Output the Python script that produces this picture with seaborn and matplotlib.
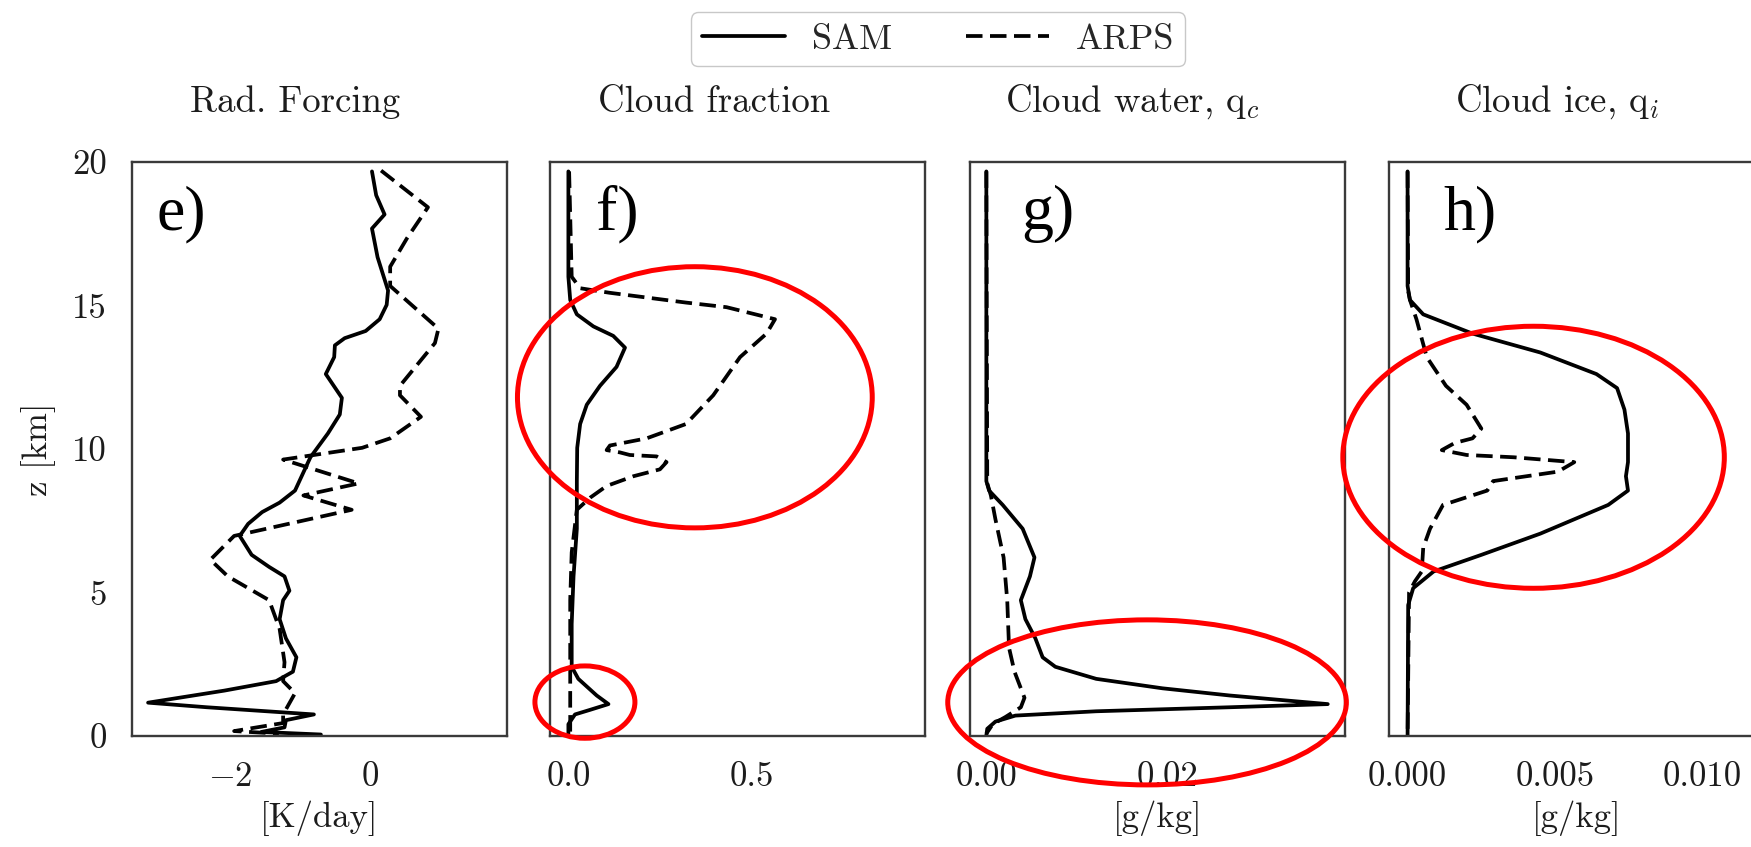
import matplotlib
matplotlib.use("Agg")
import matplotlib.pyplot as plt
from matplotlib.patches import Ellipse
import pandas as pd
import seaborn as sns

# ---------------------------------------------------------------- data
# Radiative forcing [K/day]
rad_sam_z = [19.67, 18.84, 18.17, 17.68, 16.68, 15.52, 15.02, 14.52, 14.11, 13.86,
             13.61, 13.20, 12.61, 11.78, 11.20, 10.54, 9.71, 8.55, 8.13, 7.80,
             7.39, 6.97, 6.31, 5.89, 5.56, 5.06, 4.73, 4.07, 3.40, 2.74,
             2.24, 1.91, 1.58, 1.16, 1.00, 0.75, 0.55, 0.30, 0.14, 0.05]
rad_sam = [0.03, 0.09, 0.21, 0.03, 0.11, 0.26, 0.24, 0.14, -0.06, -0.36,
           -0.50, -0.51, -0.63, -0.40, -0.43, -0.60, -0.85, -1.07, -1.29, -1.54,
           -1.74, -1.86, -1.69, -1.44, -1.22, -1.15, -1.24, -1.29, -1.20, -1.05,
           -1.10, -1.34, -2.08, -3.17, -2.33, -0.80, -1.20, -1.22, -1.55, -0.70]
rad_arps_z = [19.70, 18.42, 17.34, 16.35, 15.68, 14.19, 13.69, 12.20, 11.87, 11.12,
              10.37, 10.04, 9.63, 8.80, 8.38, 7.88, 6.97, 6.14, 5.56, 4.73,
              3.73, 2.57, 1.91, 1.49, 0.75, 0.45, 0.17, 0.08]
rad_arps = [0.16, 0.83, 0.53, 0.29, 0.29, 0.98, 0.93, 0.43, 0.43, 0.73,
            0.29, -0.11, -1.24, -0.16, -0.95, -0.26, -1.94, -2.28, -2.03, -1.44,
            -1.29, -1.22, -1.24, -1.07, -1.24, -1.24, -1.94, -1.30]

# Cloud fraction
cf_sam_z = [19.67, 16.00, 15.19, 14.69, 14.27, 13.94, 13.53, 12.86, 12.20, 11.54,
            10.87, 10.04, 8.88, 7.22, 5.56, 3.90, 2.41, 1.99, 1.41, 1.11,
            0.91, 0.75, 0.41, 0.08]
cf_sam = [0.000, 0.000, 0.005, 0.023, 0.068, 0.122, 0.154, 0.131, 0.086, 0.050,
          0.032, 0.024, 0.023, 0.023, 0.014, 0.009, 0.009, 0.027, 0.077, 0.109,
          0.059, 0.018, 0.000, 0.000]
cf_arps_z = [19.67, 16.00, 15.60, 15.44, 15.10, 14.94, 14.52, 14.02, 13.20, 11.87,
             10.87, 10.37, 10.12, 9.96, 9.88, 9.79, 9.74, 9.54, 9.29, 9.05,
             8.71, 8.30, 7.88, 6.39, 4.73, 2.24, 0.58, 0.08]
cf_arps = [0.002, 0.009, 0.032, 0.113, 0.320, 0.430, 0.562, 0.539, 0.467, 0.394,
           0.320, 0.213, 0.113, 0.104, 0.140, 0.167, 0.240, 0.267, 0.249, 0.177,
           0.104, 0.059, 0.023, 0.009, 0.005, 0.005, 0.005, 0.005]

# Cloud water q_c [g/kg]
qc_sam_z = [19.67, 8.88, 8.55, 8.05, 7.22, 6.22, 5.56, 4.73, 4.07, 3.40,
            2.74, 2.41, 1.99, 1.66, 1.41, 1.11, 1.00, 0.86, 0.71, 0.50,
            0.25, 0.02]
qc_sam = [0.0, 0.0, 0.0003, 0.0018, 0.0040, 0.0053, 0.0048, 0.0038, 0.0043, 0.0054,
          0.0062, 0.0076, 0.0121, 0.0194, 0.0268, 0.0376, 0.0268, 0.0121, 0.0032, 0.0010,
          0.0001, 0.0]
qc_arps_z = [19.67, 8.80, 8.38, 7.55, 6.22, 4.73, 3.07, 2.24, 1.33, 1.00,
             0.66, 0.41, 0.08]
qc_arps = [0.0, 0.0001, 0.0005, 0.0010, 0.0019, 0.0023, 0.0025, 0.0031, 0.0042, 0.0038,
           0.0021, 0.0007, 0.0]

# Cloud ice q_i [g/kg]
qi_sam_z = [19.67, 15.68, 15.19, 14.69, 14.02, 13.36, 12.61, 12.12, 11.37, 10.54,
            9.54, 9.05, 8.55, 8.05, 7.05, 6.31, 5.73, 5.15, 4.56, 0.02]
qi_sam = [0.0, 0.0, 0.00008, 0.00053, 0.0022, 0.0045, 0.0064, 0.0071, 0.00735, 0.00747,
          0.00747, 0.0074, 0.00747, 0.0068, 0.0045, 0.0025, 0.00088, 0.00019, 0.00002, 0.0]
qi_arps_z = [19.67, 15.50, 15.19, 14.52, 13.20, 12.20, 11.54, 10.71, 10.37, 10.21,
             9.96, 9.79, 9.71, 9.54, 9.21, 8.88, 8.55, 8.05, 7.22, 6.56,
             5.73, 5.39, 5.00, 0.02]
qi_arps = [0.0, 0.00002, 0.00008, 0.0003, 0.00065, 0.0013, 0.0020, 0.0025, 0.0022, 0.0016,
           0.00116, 0.0020, 0.0036, 0.00565, 0.0051, 0.0029, 0.0027, 0.0012, 0.00076, 0.00053,
           0.00048, 0.00025, 0.00005, 0.0]

models = ["SAM", "ARPS"]
titles = ["Rad. Forcing", "Cloud fraction", r"Cloud water, q$_c$", r"Cloud ice, q$_i$"]
letters = ["e)", "f)", "g)", "h)"]
xlabels = ["[K/day]", "", "[g/kg]", "[g/kg]"]
xlims = [(-3.40, 1.96), (-0.05, 0.97), (-0.0018, 0.0395), (-0.00063, 0.01208)]
xticks = [[-2, 0], [0.0, 0.5], [0.0, 0.02], [0.0, 0.005, 0.010]]
xticklabels = [[r"$-2$", "0"], ["0.0", "0.5"], ["0.00", "0.02"], ["0.000", "0.005", "0.010"]]
zticks = [0, 5, 10, 15, 20]

# highlighted regions: (panel, x centre, z centre, width, height) in data units
highlights = [
    (1, 0.344, 11.8, 0.965, 9.1),
    (1, 0.045, 1.18, 0.272, 2.52),
    (2, 0.0177, 1.17, 0.0439, 5.75),
    (3, 0.00427, 9.71, 0.01293, 9.13),
]

profiles = [
    (rad_sam_z, rad_sam, rad_arps_z, rad_arps),
    (cf_sam_z, cf_sam, cf_arps_z, cf_arps),
    (qc_sam_z, qc_sam, qc_arps_z, qc_arps),
    (qi_sam_z, qi_sam, qi_arps_z, qi_arps),
]

# ---------------------------------------------------------------- style
sns.set_style("white")
plt.rcParams.update({
    "font.family": "cmr10",
    "mathtext.fontset": "cm",
    "axes.formatter.use_mathtext": True,
    "axes.unicode_minus": False,
})
TXT = "#1c1c1c"
SPINE = "#3a3a3a"
LW = 2.7
DASH = (4.4, 2.0)

fig = plt.figure(figsize=(17.51, 8.47), dpi=100)
lefts = [132 / 1751, 550 / 1751, 970 / 1751, 1389 / 1751]
title_x = [0.435, 0.437, 0.432, 0.448]
letter_x = [0.064, 0.122, 0.136, 0.146]
axes = [fig.add_axes([l, 0.1311, 375 / 1751, 0.6777]) for l in lefts]

for i, ax in enumerate(axes):
    zs, xs, za, xa = profiles[i]
    df = pd.concat([
        pd.DataFrame({"z": zs, "val": xs, "model": models[0]}),
        pd.DataFrame({"z": za, "val": xa, "model": models[1]}),
    ], ignore_index=True)
    sns.lineplot(data=df, x="val", y="z", style="model", style_order=models,
                 dashes={"SAM": "", "ARPS": DASH}, color="black", linewidth=LW,
                 sort=False, estimator=None, legend=False, ax=ax)
    for ln in ax.get_lines():
        ln.set_linewidth(LW)
        ln.set_solid_joinstyle("round")

    ax.set_xlim(*xlims[i])
    ax.set_ylim(0, 20)
    ax.set_xticks(xticks[i], xticklabels[i])
    ax.set_yticks(zticks)
    if i == 0:
        ax.set_yticklabels([str(t) for t in zticks])
        ax.set_ylabel("z [km]", fontsize=25, color=TXT, labelpad=12)
    else:
        ax.set_yticklabels([])
        ax.set_ylabel("")
    ax.set_xlabel(xlabels[i], fontsize=25, color=TXT, labelpad=6)

    ax.tick_params(direction="out", length=10.5, width=1.3, color=SPINE,
                   labelsize=25, labelcolor=TXT, pad=7.5)
    for s in ax.spines.values():
        s.set_visible(True)
        s.set_color(SPINE)
        s.set_linewidth(1.7)

    ax.text(title_x[i], 1.087, titles[i], transform=ax.transAxes, ha="center",
            va="baseline", fontsize=26.5, color=TXT)
    ax.text(letter_x[i], 0.883, letters[i], transform=ax.transAxes, ha="left",
            va="baseline", fontsize=46, color="black", family="Liberation Serif")

for p, cx, cz, w, h in highlights:
    axes[p].add_patch(Ellipse((cx, cz), w, h, fill=False, edgecolor="#ff0000",
                              linewidth=3.6, clip_on=False, zorder=5))

lines = axes[0].get_lines()
fig.legend(handles=[lines[0], lines[1]], labels=models, loc="center",
           bbox_to_anchor=(0.5358, 0.9534), ncol=2, fontsize=26,
           handlelength=2.3, handletextpad=0.75, columnspacing=2.05,
           borderpad=0.3, frameon=True, fancybox=True, edgecolor="#c8c8c8",
           framealpha=1.0)

fig.savefig("out.png", dpi=100)
